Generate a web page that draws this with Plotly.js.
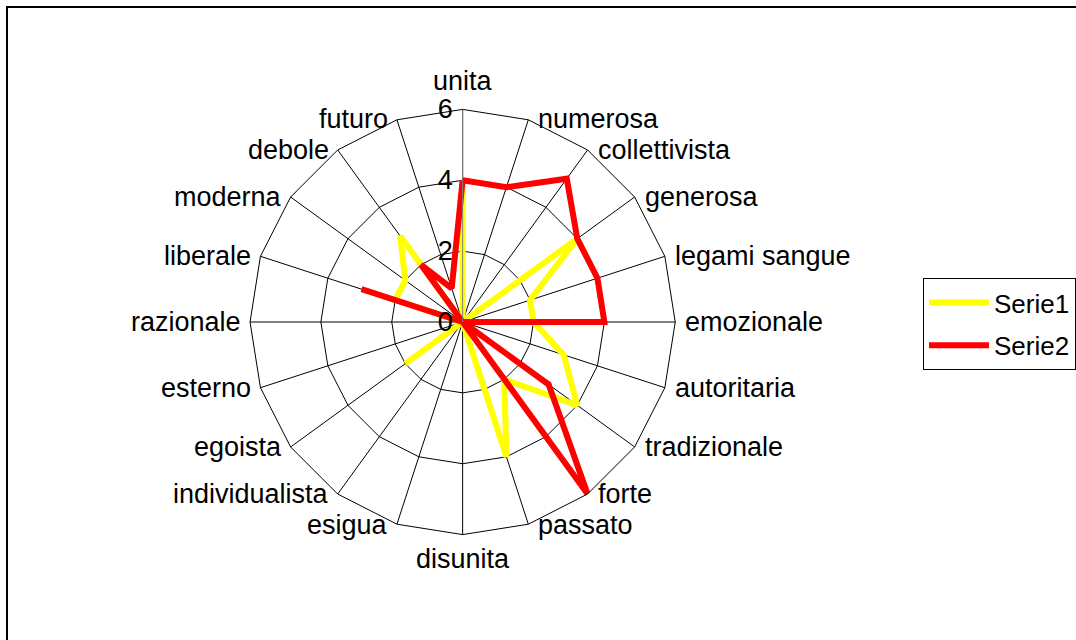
<!DOCTYPE html>
<html>
<head>
<meta charset="utf-8">
<script src="https://cdn.plot.ly/plotly-3.0.1.min.js"></script>
<style>
  html, body { margin: 0; padding: 0; background: #fff; }
  #wrap { position: relative; width: 1076px; height: 640px; overflow: hidden; }
  #chart { width: 1076px; height: 640px; }
  #frame { position: absolute; left: 6px; top: 6px; width: 1200px; height: 800px;
           border: 2px solid #000; pointer-events: none; }
</style>
</head>
<body>
<div id="wrap">
  <div id="chart"></div>
  <div id="frame"></div>
</div>
<script>
const categories = ['unita','numerosa','collettivista','generosa','legami sangue','emozionale',
  'autoritaria','tradizionale','forte','passato','disunita','esigua','individualista','egoista',
  'esterno','razionale','liberale','moderna','debole','futuro'];
const serie1 = [4,0,0,4,2,2,3,4,2,4,0,0,0,2,0,0,2,2,3,0];
const serie2 = [4,4,5,4,4,4,0,3,6,0,0,0,0,0,0,0,3,0,2,1];
const seriesNames = ['Serie1','Serie2'];
const radialTicks = [0,2,4,6];

const W = 1076, H = 640;
// polar geometry (center and radius in px)
const CX = 463.5, CY = 322, R = 213;
const domX = [(CX - R) / W, (CX + R) / W];
const domY = [(H - CY - R) / H, (H - CY + R) / H];

function closeLoop(a){ return a.concat([a[0]]); }

const traces = [
  {type:'scatterpolar', mode:'lines', name:seriesNames[0], legendgroup:'a',
   r: closeLoop(serie1), theta: closeLoop(categories),
   line:{color:'#ffff00', width:6}},
  {type:'scatterpolar', mode:'lines', name:seriesNames[1], legendgroup:'b',
   r: closeLoop(serie2), theta: closeLoop(categories),
   line:{color:'#ff0000', width:6}}
];

// category labels placed around the outer ring (at each spoke end)
const labelFont = {size:27, color:'#000'};
const annotations = categories.map(function(c, i){
  const ang = i * 360 / categories.length;
  const rad = ang * Math.PI / 180;
  const px = CX + R * Math.sin(rad);
  const py = CY - R * Math.cos(rad);
  const a = {text:c, showarrow:false, xref:'paper', yref:'paper',
             x:px / W, y:(H - py) / H, font:labelFont, borderpad:0};
  if (ang === 0) { a.xanchor = 'center'; a.yanchor = 'bottom'; a.yshift = 12; }
  else if (ang === 180) { a.xanchor = 'center'; a.yanchor = 'top'; a.yshift = -8; }
  else if (ang < 180) { a.xanchor = 'left'; a.yanchor = 'middle'; a.xshift = 9; }
  else { a.xanchor = 'right'; a.yanchor = 'middle'; a.xshift = -8; }
  return a;
});

const layout = {
  width:W, height:H,
  margin:{l:0,r:0,t:0,b:0},
  paper_bgcolor:'#ffffff',
  font:{family:'"Liberation Sans", Arial, sans-serif', color:'#000', size:26},
  showlegend:true,
  legend:{x:925/W, xanchor:'left', y:1-278/H, yanchor:'top',
          bordercolor:'#000', borderwidth:1, bgcolor:'#fff', itemwidth:60,
          font:{size:26, color:'#000'}, traceorder:'grouped', tracegroupgap:6},
  annotations: annotations,
  polar:{
    domain:{x:domX, y:domY},
    bgcolor:'#ffffff',
    gridshape:'linear',
    angularaxis:{type:'category', categoryarray:categories, direction:'clockwise', rotation:90,
      showline:true, linecolor:'#000', linewidth:1,
      showgrid:true, gridcolor:'#000', gridwidth:1,
      showticklabels:false, ticks:''},
    radialaxis:{range:[0,6], tickvals:radialTicks, ticktext:radialTicks.map(String),
      angle:90, side:'counterclockwise', tickangle:90,
      showline:true, linecolor:'#808080', linewidth:1,
      showgrid:true, gridcolor:'#000', gridwidth:1,
      ticks:'', tickfont:{size:27, color:'#000'}}
  }
};

Plotly.newPlot('chart', traces, layout, {displayModeBar:false, staticPlot:true});
</script>
</body>
</html>
